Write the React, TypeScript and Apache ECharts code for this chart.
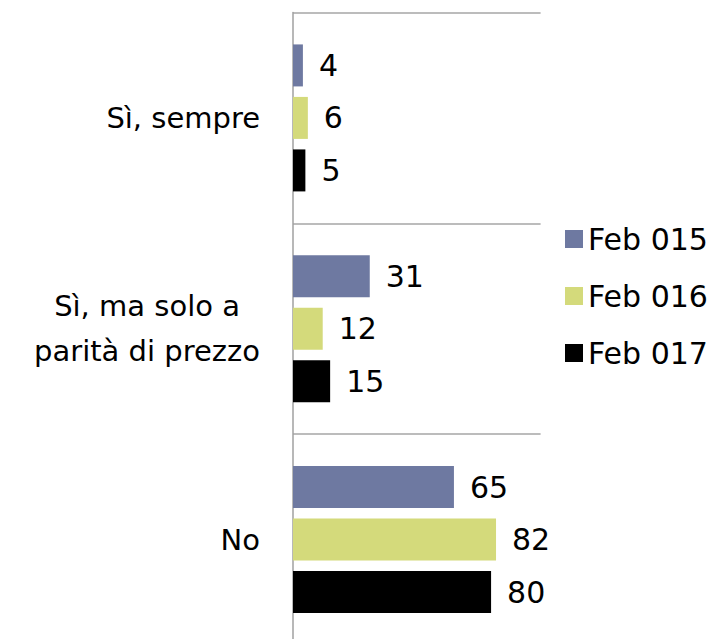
import React, { useEffect, useRef } from "react";
import * as echarts from "echarts";

const categories = ["Sì, sempre", "Sì, ma solo a\nparità di prezzo", "No"];
const seriesNames = ["Feb 015", "Feb 016", "Feb 017"];
const feb015 = [4, 31, 65];
const feb016 = [6, 12, 82];
const feb017 = [5, 15, 80];
const colors = ["#6E79A1", "#D4DA7B", "#000000"];

const FONT = "'DejaVu Sans', sans-serif";

export default function App() {
  const ref = useRef<HTMLDivElement>(null);
  useEffect(() => {
    if (!ref.current) return;
    const chart = echarts.init(ref.current, undefined, { renderer: "svg" });
    const values = [feb015, feb016, feb017];
    chart.setOption({
      animation: false,
      backgroundColor: "#ffffff",
      grid: {
        left: 293,
        width: 247.6,
        top: 12.5,
        height: 632.5,
        containLabel: false,
        outerBoundsMode: "none",
      },
      legend: {
        orient: "vertical",
        left: 560,
        top: 219,
        itemWidth: 18,
        itemHeight: 18,
        itemGap: 27,
        icon: "rect",
        data: seriesNames,
        textStyle: { fontFamily: FONT, fontSize: 30, color: "#000", lineHeight: 30, padding: [0, 0, 0, 0] },
      },
      xAxis: {
        type: "value",
        min: 0,
        max: 100,
        show: false,
        splitLine: { show: false },
      },
      yAxis: {
        type: "category",
        data: categories,
        inverse: true,
        axisLine: { show: true, lineStyle: { color: "#A0A0A0", width: 1.5 } },
        axisTick: { show: false },
        splitLine: { show: true, lineStyle: { color: "#A6A6A6", width: 1.5 } },
        axisLabel: {
          margin: 33,
          formatter: (v: string) =>
            v
              .split("\n")
              .map((l) => `{c|${l}}`)
              .join("\n"),
          rich: {
            c: { fontFamily: FONT, fontSize: 29, color: "#000", align: "center", lineHeight: 45 },
          },
        },
      },
      series: values.map((d, i) => ({
        type: "bar",
        name: seriesNames[i],
        data: d,
        barWidth: 42,
        barGap: "25%",
        itemStyle: { color: colors[i] },
        label: {
          show: true,
          position: "right",
          distance: 16,
          fontFamily: FONT,
          fontSize: 30,
          color: "#000",
        },
      })),
    });
    return () => chart.dispose();
  }, []);
  return (
    <div
      ref={ref}
      style={{ position: "absolute", left: 0, top: 0, width: 716, height: 639 }}
    />
  );
}
